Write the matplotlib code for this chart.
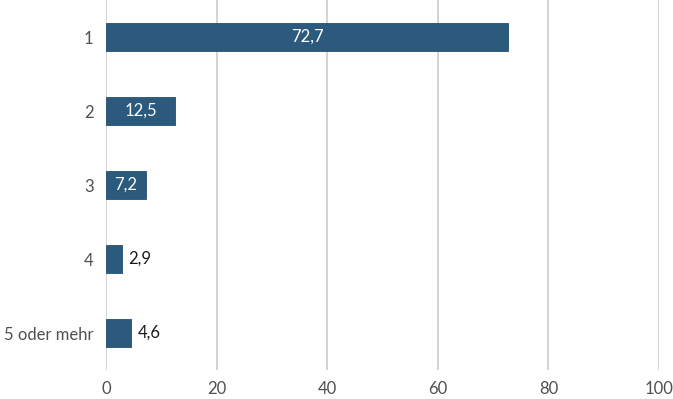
import matplotlib.pyplot as plt

categories = ["1", "2", "3", "4", "5 oder mehr"]
values = [72.7, 12.5, 7.2, 2.9, 4.6]
value_labels = ["72,7", "12,5", "7,2", "2,9", "4,6"]

plt.rcParams['font.family'] = ['Lato', 'DejaVu Sans']

fig = plt.figure(figsize=(6.73, 3.99), dpi=100)
ax = fig.add_axes([106 / 673, 29 / 399, 553 / 673, 370 / 399])

bar_color = '#2B5A7C'
ax.barh(range(len(categories)), values, height=0.38, color=bar_color,
        edgecolor='#24506f', linewidth=0.6, zorder=3)

# labels inside large bars, outside small ones
for i, (v, lab) in enumerate(zip(values, value_labels)):
    if v >= 7:
        ax.text(v / 2, i, lab, ha='center', va='center', color='white', fontsize=12, zorder=4)
    else:
        ax.text(v + 1.2, i, lab, ha='left', va='center', color='#1a1a1a', fontsize=12, zorder=4)

ax.set_xlim(0, 100)
ax.set_ylim(4.5, -0.5)
ax.set_xticks([0, 20, 40, 60, 80, 100])
ax.set_yticks(range(len(categories)))
ax.set_yticklabels(categories)
ax.tick_params(axis='both', length=0, labelsize=12, colors='#505050')
ax.tick_params(axis='y', pad=9)
ax.tick_params(axis='x', pad=8)
ax.grid(axis='x', color='#cccccc', linewidth=1.2, zorder=0)
for s in ax.spines.values():
    s.set_visible(False)

fig.savefig('out.png', dpi=100)
